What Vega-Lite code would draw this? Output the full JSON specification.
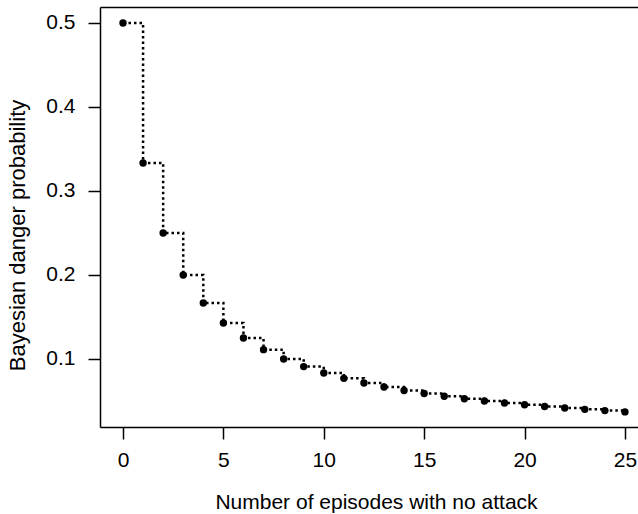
{
  "$schema": "https://vega.github.io/schema/vega-lite/v6.json",
  "width": 538,
  "height": 420,
  "autosize": {"type": "none"},
  "padding": {"left": 100, "top": 7, "right": 0, "bottom": 87},
  "background": "white",
  "config": {
    "view": {"stroke": null},
    "font": "Liberation Sans",
    "axis": {
      "grid": false,
      "domainColor": "black",
      "domainWidth": 1.5,
      "tickColor": "black",
      "tickWidth": 1.5,
      "tickSize": 12,
      "labelColor": "black",
      "labelFont": "Liberation Sans",
      "labelFontSize": 21,
      "titleFont": "Liberation Sans",
      "titleFontWeight": "normal",
      "titleColor": "black"
    }
  },
  "data": {
    "values": [
      {"n": 0, "p": 0.5},
      {"n": 1, "p": 0.3333},
      {"n": 2, "p": 0.25},
      {"n": 3, "p": 0.2},
      {"n": 4, "p": 0.1667},
      {"n": 5, "p": 0.1429},
      {"n": 6, "p": 0.125},
      {"n": 7, "p": 0.1111},
      {"n": 8, "p": 0.1},
      {"n": 9, "p": 0.0909},
      {"n": 10, "p": 0.0833},
      {"n": 11, "p": 0.0769},
      {"n": 12, "p": 0.0714},
      {"n": 13, "p": 0.0667},
      {"n": 14, "p": 0.0625},
      {"n": 15, "p": 0.0588},
      {"n": 16, "p": 0.0556},
      {"n": 17, "p": 0.0526},
      {"n": 18, "p": 0.05},
      {"n": 19, "p": 0.0476},
      {"n": 20, "p": 0.0455},
      {"n": 21, "p": 0.0435},
      {"n": 22, "p": 0.0417},
      {"n": 23, "p": 0.04},
      {"n": 24, "p": 0.0385},
      {"n": 25, "p": 0.037}
    ]
  },
  "layer": [
    {
      "mark": {"type": "line", "interpolate": "step-after", "color": "black", "strokeWidth": 2.5, "strokeDash": [2.5, 3]},
      "encoding": {
        "x": {
          "field": "n", "type": "quantitative",
          "scale": {"domain": [-1.145, 25.65], "nice": false, "zero": false},
          "axis": {
            "values": [0, 5, 10, 15, 20, 25],
            "labelPadding": 10,
            "title": "Number of episodes with no attack",
            "titleFontSize": 21,
            "titleX": 276,
            "titleY": 81,
            "titleBaseline": "alphabetic",
            "titleAlign": "center"
          }
        },
        "y": {
          "field": "p", "type": "quantitative",
          "scale": {"domain": [0.019, 0.519], "nice": false, "zero": false},
          "axis": {
            "values": [0.1, 0.2, 0.3, 0.4, 0.5],
            "format": ".1f",
            "labelPadding": 13,
            "title": "Bayesian danger probability",
            "titleFontSize": 22,
            "titleX": -83,
            "titleY": 228,
            "titleAngle": 270,
            "titleBaseline": "middle",
            "titleAlign": "center"
          }
        }
      }
    },
    {
      "mark": {"type": "point", "filled": true, "color": "black", "opacity": 1, "size": 55},
      "encoding": {
        "x": {
          "field": "n", "type": "quantitative",
          "axis": {"orient": "top", "labels": false, "ticks": false, "title": null, "domain": true}
        },
        "y": {"field": "p", "type": "quantitative"}
      }
    }
  ],
  "resolve": {"axis": {"x": "independent"}}
}
